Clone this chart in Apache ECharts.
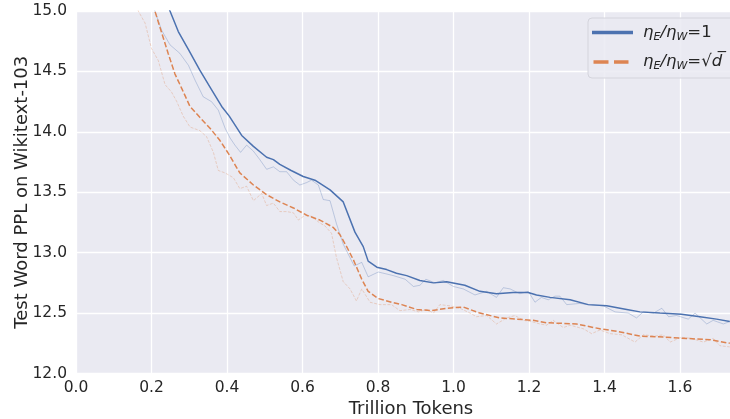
<!DOCTYPE html>
<html><head><meta charset="utf-8">
<script src="https://cdn.jsdelivr.net/npm/echarts@6/dist/echarts.min.js"></script>
<style>html,body{margin:0;padding:0;background:#fff}#c{width:730px;height:419px}</style>
</head><body><div id="c"></div>
<script>
const xTicks = [0.0, 0.2, 0.4, 0.6, 0.8, 1.0, 1.2, 1.4, 1.6];
const yTicks = [12.0, 12.5, 13.0, 13.5, 14.0, 14.5, 15.0];

const blueSmoothX = [0.235,0.249,0.271,0.298,0.328,0.359,0.386,0.406,0.439,0.470,0.505,0.523,0.540,0.570,0.602,0.633,0.673,0.708,0.739,0.761,0.774,0.797,0.823,0.849,0.876,0.911,0.947,0.982,1.030,1.070,1.114,1.158,1.198,1.220,1.256,1.309,1.357,1.406,1.459,1.494,1.547,1.604,1.653,1.697,1.732];
const blueSmoothY = [15.12,15.00,14.83,14.68,14.51,14.35,14.21,14.13,13.97,13.88,13.79,13.77,13.73,13.68,13.63,13.60,13.52,13.42,13.17,13.05,12.93,12.88,12.86,12.83,12.81,12.77,12.75,12.76,12.73,12.68,12.66,12.67,12.67,12.65,12.63,12.61,12.57,12.56,12.53,12.51,12.50,12.49,12.47,12.45,12.43];

const orangeSmoothX = [0.200,0.209,0.227,0.244,0.262,0.280,0.302,0.328,0.355,0.381,0.404,0.434,0.470,0.505,0.540,0.576,0.611,0.646,0.681,0.699,0.717,0.735,0.757,0.774,0.801,0.836,0.863,0.903,0.942,0.982,1.026,1.070,1.123,1.167,1.211,1.247,1.326,1.388,1.432,1.494,1.565,1.618,1.680,1.732];
const orangeSmoothY = [15.12,15.00,14.82,14.65,14.48,14.36,14.21,14.12,14.03,13.93,13.82,13.66,13.56,13.48,13.42,13.37,13.31,13.27,13.21,13.15,13.05,12.94,12.78,12.68,12.62,12.59,12.57,12.53,12.52,12.54,12.55,12.50,12.46,12.45,12.44,12.42,12.41,12.37,12.35,12.31,12.30,12.29,12.28,12.25];

const blueRawX = [0.195,0.209,0.227,0.249,0.275,0.298,0.315,0.337,0.359,0.377,0.395,0.408,0.421,0.436,0.452,0.470,0.487,0.505,0.523,0.540,0.558,0.576,0.593,0.611,0.624,0.642,0.655,0.673,0.690,0.708,0.737,0.757,0.774,0.801,0.841,0.872,0.894,0.911,0.927,0.951,0.973,1.000,1.026,1.057,1.088,1.114,1.132,1.150,1.176,1.198,1.216,1.233,1.251,1.269,1.282,1.300,1.335,1.357,1.397,1.428,1.463,1.485,1.503,1.530,1.552,1.570,1.591,1.622,1.640,1.671,1.688,1.715,1.732];
const blueRawY = [15.12,15.00,14.84,14.72,14.65,14.55,14.43,14.29,14.25,14.18,14.03,13.95,13.89,13.83,13.89,13.84,13.77,13.69,13.71,13.67,13.67,13.60,13.56,13.58,13.60,13.56,13.44,13.43,13.24,13.07,12.89,12.92,12.80,12.84,12.81,12.78,12.72,12.73,12.78,12.75,12.77,12.72,12.70,12.65,12.68,12.63,12.71,12.70,12.66,12.68,12.59,12.63,12.61,12.64,12.64,12.57,12.58,12.57,12.56,12.51,12.50,12.46,12.51,12.50,12.54,12.47,12.48,12.45,12.50,12.41,12.44,12.41,12.43];

const orangeRawX = [0.155,0.165,0.183,0.200,0.218,0.236,0.253,0.267,0.284,0.302,0.328,0.346,0.364,0.377,0.395,0.417,0.434,0.452,0.470,0.492,0.505,0.523,0.540,0.558,0.576,0.589,0.607,0.624,0.644,0.660,0.677,0.690,0.708,0.726,0.743,0.757,0.779,0.805,0.836,0.858,0.885,0.907,0.929,0.947,0.964,0.991,1.017,1.044,1.061,1.088,1.114,1.141,1.163,1.185,1.207,1.229,1.247,1.264,1.291,1.309,1.344,1.366,1.388,1.415,1.446,1.481,1.503,1.534,1.556,1.574,1.604,1.631,1.662,1.688,1.706,1.732];
const orangeRawY = [15.12,15.00,14.90,14.69,14.59,14.39,14.33,14.25,14.13,14.04,14.01,13.96,13.83,13.68,13.66,13.62,13.53,13.55,13.43,13.49,13.39,13.41,13.34,13.34,13.33,13.27,13.31,13.30,13.25,13.22,13.16,12.96,12.76,12.70,12.60,12.70,12.59,12.57,12.57,12.52,12.53,12.51,12.53,12.50,12.57,12.56,12.54,12.50,12.47,12.48,12.41,12.46,12.48,12.44,12.43,12.41,12.40,12.44,12.38,12.40,12.37,12.33,12.36,12.33,12.32,12.26,12.32,12.31,12.32,12.26,12.30,12.29,12.26,12.29,12.23,12.22];

const BLUE = '#4c72b0', ORANGE = '#dd8452';
const zip = (xs, ys) => xs.map((x, i) => [x, ys[i]]);
const FONT = 'DejaVu Sans';
const TXT = '#262626';

const chart = echarts.init(document.getElementById('c'), null, {renderer: 'canvas'});
const legendRich = {
  i: {fontFamily: FONT, fontStyle: 'italic', fontSize: 16.5, color: TXT, lineHeight: 20},
  s: {fontFamily: FONT, fontStyle: 'italic', fontSize: 11, color: TXT, verticalAlign: 'bottom', padding: [7, 0, 0, 0], lineHeight: 20},
  n: {fontFamily: FONT, fontSize: 16.5, color: TXT, lineHeight: 20}
};
chart.setOption({
  animation: false,
  backgroundColor: '#ffffff',
  grid: {left: 76, width: 670, top: 11, bottom: 45.5, outerBoundsMode: 'none', containLabel: false,
    show: true, backgroundColor: '#eaeaf2', borderWidth: 0},
  xAxis: {
    type: 'value', min: 0, max: 1.775, interval: 0.2,
    name: 'Trillion Tokens', nameLocation: 'middle', nameGap: 27, nameMoveOverlap: false,
    nameTextStyle: {fontFamily: FONT, fontSize: 18, color: TXT},
    axisLine: {show: false}, axisTick: {show: false},
    axisLabel: {fontFamily: FONT, fontSize: 15.5, color: TXT, margin: 6, showMaxLabel: false,
      formatter: v => { const t = xTicks.find(k => Math.abs(k - v) < 1e-6); return t === undefined ? '' : t.toFixed(1); }},
    splitLine: {show: true, lineStyle: {color: '#ffffff', width: 1.3}}
  },
  yAxis: {
    type: 'value', min: 12, max: 15, interval: 0.5,
    name: 'Test Word PPL on Wikitext-103', nameLocation: 'middle', nameGap: 45, nameMoveOverlap: false,
    nameTextStyle: {fontFamily: FONT, fontSize: 18, color: TXT},
    axisLine: {show: false}, axisTick: {show: false},
    axisLabel: {fontFamily: FONT, fontSize: 15.5, color: TXT, margin: 9,
      formatter: v => { const t = yTicks.find(k => Math.abs(k - v) < 1e-6); return t === undefined ? '' : t.toFixed(1); }},
    splitLine: {show: true, lineStyle: {color: '#ffffff', width: 1.3}}
  },
  legend: {
    orient: 'vertical', left: 588, top: 18, itemWidth: 41, itemHeight: 14, itemGap: 11,
    padding: [6, 30, 6, 4],
    backgroundColor: 'rgba(234,234,242,0.85)', borderColor: '#d4d4dc', borderWidth: 1, borderRadius: 4,
    textStyle: {fontFamily: FONT, fontSize: 16.5, color: TXT, padding: [0, 0, 0, 5], rich: legendRich},
    data: [
      {name: 'a', icon: 'path://M0,0 L41,0 L41,3.5 L0,3.5 Z', itemStyle: {color: BLUE}},
      {name: 'b', icon: 'path://M1.5,0 h15 v3.5 h-15 Z M22,0 h14.5 v3.5 h-14.5 Z M0,0 L0,0.01 M41,0 L41,0.01', itemStyle: {color: ORANGE}}
    ],
    formatter: n => n === 'a' ? '{i|η}{s|E}{i|/η}{s|W}{n|=1}' : '{i|η}{s|E}{i|/η}{s|W}{n|=√}{i|d\u0305}'
  },
  series: [
    {name: 'blueRaw', type: 'line', data: zip(blueRawX, blueRawY), symbol: 'none', clip: true,
      lineStyle: {color: BLUE, width: 1, opacity: 0.3}, z: 1},
    {name: 'orangeRaw', type: 'line', data: zip(orangeRawX, orangeRawY), symbol: 'none', clip: true,
      lineStyle: {color: ORANGE, width: 1, opacity: 0.3, type: [3, 1.5]}, z: 1},
    {name: 'a', type: 'line', data: zip(blueSmoothX, blueSmoothY), symbol: 'none', clip: true,
      itemStyle: {color: BLUE}, lineStyle: {color: BLUE, width: 1.5}, z: 3},
    {name: 'b', type: 'line', data: zip(orangeSmoothX, orangeSmoothY), symbol: 'none', clip: true,
      itemStyle: {color: ORANGE}, lineStyle: {color: ORANGE, width: 1.5, type: [5.5, 2.4]}, z: 3}
  ]
});
</script></body></html>
